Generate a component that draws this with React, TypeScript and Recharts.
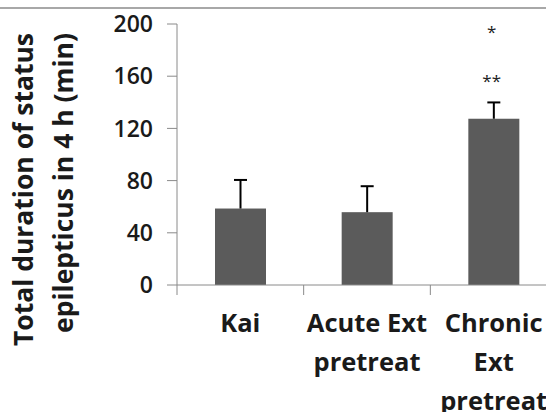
import React from "react";
import { BarChart, Bar, XAxis, YAxis, ReferenceDot } from "recharts";

const categories = ["Kai", "Acute Ext pretreat", "Chronic Ext pretreat"];
const tickLines = [["Kai"], ["Acute Ext", "pretreat"], ["Chronic", "Ext", "pretreat"]];
const means = [58.6, 55.8, 127.4];
const errors = [21.9, 19.9, 12.5];
const yTicks = [0, 40, 80, 120, 160, 200];
const yTitleLines = ["Total duration of status", "epilepticus in 4 h (min)"];
const markCats = ["Chronic Ext pretreat", "Chronic Ext pretreat"];
const markValues = [196, 158.6];
const markTexts = ["*", "**"];

const data = categories.map((c, i) => ({ cat: c, mean: means[i], err: errors[i] }));
const marks = markCats.map((c, i) => ({ cat: c, y: markValues[i], text: markTexts[i] }));

const W = 580;
const H = 412;
const M = { top: 24, right: 23, bottom: 0, left: 0 };
const YW = 177;
const XH = 127;
const AXIS = "#8a8a8a";
const BAR = "#5b5b5b";
const FONT = "'Open Sans', 'DejaVu Sans', sans-serif";
const HALF = (W - M.right - M.left - YW) / categories.length / 2;

const XTick = (props: any) => {
  const { x, y, payload } = props;
  const idx = categories.indexOf(payload.value);
  const lines = tickLines[idx] || [String(payload.value)];
  return (
    <g>
      <line x1={x - HALF} x2={x - HALF} y1={y} y2={y + 10} stroke={AXIS} strokeWidth={1} />
      <text textAnchor="middle" fontFamily={FONT} fontWeight={700} fontSize={25.5} fill="#1a1a1a">
        {lines.map((l, i) => (
          <tspan key={i} x={x} y={y + 47 + i * 39}>
            {l}
          </tspan>
        ))}
      </text>
    </g>
  );
};

const BarShape = (props: any) => {
  const { x, y, width, height, payload } = props;
  const ratio = payload.mean ? height / payload.mean : 0;
  const top = y - payload.err * ratio;
  const cx = x + width / 2;
  return (
    <g>
      <rect x={x} y={y} width={width} height={height} fill={BAR} />
      <line x1={cx} x2={cx} y1={y} y2={top} stroke="#000" strokeWidth={2} />
      <line x1={cx - 6.5} x2={cx + 6.5} y1={top} y2={top} stroke="#000" strokeWidth={2} />
    </g>
  );
};

const YTitle = () => (
  <g>
    {yTitleLines.map((l, i) => (
      <text
        key={i}
        x={33 + i * 40}
        y={33}
        transform={`rotate(-90, ${33 + i * 40}, 33)`}
        textAnchor="end"
        fontFamily={FONT}
        fontWeight={700}
        fontSize={26.5}
        fill="#1a1a1a"
      >
        {l}
      </text>
    ))}
  </g>
);

export default function App() {
  return (
    <div style={{ position: "absolute", left: 0, top: 0, width: 546, height: 412, overflow: "hidden", background: "#fff" }}>
      <div style={{ position: "absolute", left: 0, top: 7, width: 546, height: 2, background: "#a8a8a8" }} />
      <BarChart width={W} height={H} data={data} margin={M} barSize={51}>
        <XAxis
          dataKey="cat"
          height={XH}
          axisLine={{ stroke: AXIS }}
          tickLine={false}
          tickSize={0}
          tickMargin={0}
          tick={<XTick />}
          interval={0}
        />
        <YAxis
          width={YW}
          domain={[0, 200]}
          ticks={yTicks}
          axisLine={{ stroke: AXIS }}
          tickLine={{ stroke: AXIS }}
          tickSize={10}
          tickMargin={14}
          tick={{ fontFamily: FONT, fontSize: 23, fontWeight: 600, fill: "#1a1a1a" }}
          label={<YTitle />}
        />
        <Bar dataKey="mean" isAnimationActive={false} shape={<BarShape />} />
        {marks.map((m, i) => (
          <ReferenceDot
            key={i}
            x={m.cat}
            y={m.y}
            r={0}
            ifOverflow="visible"
            shape={(p: any) => (
              <text x={p.cx - 2} y={p.cy + 9} textAnchor="middle" fontFamily={FONT} fontSize={17} fill="#222">
                {m.text}
              </text>
            )}
          />
        ))}
      </BarChart>
    </div>
  );
}
